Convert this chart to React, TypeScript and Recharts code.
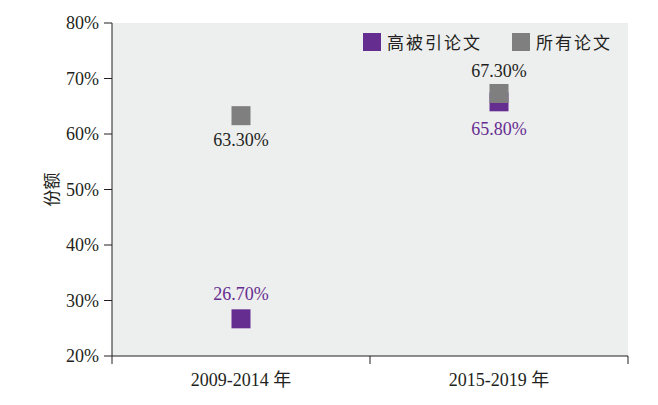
import { ComposedChart, Scatter, XAxis, YAxis, CartesianGrid, LabelList } from 'recharts'

const periods = ['2009-2014 年', '2015-2019 年']
const highCited = [26.7, 65.8]
const allPapers = [63.3, 67.3]
const yTicks = [20, 30, 40, 50, 60, 70, 80]
const seriesNames = ['高被引论文', '所有论文']

const purple = '#662d91'
const gray = '#7f7f7f'
const ink = '#231f20'
const font = '"Liberation Serif", "Noto Sans CJK SC", serif'

const data = periods.map((p, i) => ({ period: p, high: highCited[i], all: allPapers[i] }))

// vertical offset of each value label from its marker centre
const highLabelDy = [-25, 27]
const allLabelDy = [24, -22]

const square = (color: string) => (props: any) => {
    const { cx, cy } = props
    if (cx == null || cy == null) return <g />
    return <rect x={cx - 9.5} y={cy - 9.5} width={19} height={19} fill={color} />
}

const valueLabel = (color: string, dys: number[]) => (props: any) => {
    const vb = props.viewBox || {}
    const x = props.x ?? vb.x
    const y = props.y ?? vb.y
    const w = props.width ?? vb.width ?? 0
    const h = props.height ?? vb.height ?? 0
    const cx = x + w / 2
    const cy = y + h / 2
    return (
        <text x={cx} y={cy + dys[props.index]} textAnchor="middle" dominantBaseline="central"
            fill={color} fontSize={18} fontFamily={font}>
            {Number(props.value).toFixed(2)}%
        </text>
    )
}

// category ticks sit on the band edges, labels in the band centre
const PeriodTick = (props: any) => {
    const { x, y, payload, index } = props
    const half = payload.offset || 129
    const top = y - 8
    return (
        <g>
            <line x1={x - half} y1={top} x2={x - half} y2={top + 8} stroke={ink} />
            {index === periods.length - 1 && <line x1={x + half} y1={top} x2={x + half} y2={top + 8} stroke={ink} />}
            <text x={x} y={top + 24} textAnchor="middle" dominantBaseline="central" fill={ink} fontSize={18} fontFamily={font}>
                {payload.value}
            </text>
        </g>
    )
}

export default function App() {
    return (
        <div style={{ position: 'absolute', left: 0, top: 0, width: 658, height: 405, background: '#fff' }}>
            <ComposedChart width={658} height={405} data={data}
                margin={{ top: 23, right: 30, bottom: 0, left: 0 }} style={{ fontFamily: font }}>
                <CartesianGrid horizontal={false} vertical={false} fill="#edeeee" />
                <XAxis dataKey="period" type="category" scale="band" height={49} axisLine={{ stroke: ink }}
                    tickLine={false} tick={<PeriodTick />} interval={0} />
                <YAxis type="number" domain={[20, 80]} ticks={yTicks} width={112}
                    tickFormatter={(v) => `${v}%`} axisLine={{ stroke: ink }} tickLine={{ stroke: ink }}
                    tickSize={8} tickMargin={5} tick={{ fill: ink, fontSize: 18, fontFamily: font }}
                    label={{ value: '份额', angle: -90, position: 'center', dx: -4, fill: ink, fontSize: 17, fontFamily: '"Noto Sans CJK SC", sans-serif' }} />
                <Scatter name={seriesNames[0]} dataKey="high" fill={purple} shape={square(purple)} isAnimationActive={false}>
                    <LabelList dataKey="high" content={valueLabel(purple, highLabelDy)} />
                </Scatter>
                <Scatter name={seriesNames[1]} dataKey="all" fill={gray} shape={square(gray)} isAnimationActive={false}>
                    <LabelList dataKey="all" content={valueLabel(ink, allLabelDy)} />
                </Scatter>
            </ComposedChart>
            <div style={{ position: 'absolute', left: 363, top: 32, display: 'flex', alignItems: 'center', whiteSpace: 'nowrap',
                fontFamily: '"Noto Sans CJK SC", sans-serif', fontSize: 17, lineHeight: '19px', color: ink, letterSpacing: 2 }}>
                {[purple, gray].map((c, i) => (
                    <div key={i} style={{ display: 'flex', alignItems: 'center', marginRight: 30 }}>
                        <div style={{ width: 18, height: 18, background: c, marginRight: 6 }} />
                        <span>{seriesNames[i]}</span>
                    </div>
                ))}
            </div>
        </div>
    )
}
